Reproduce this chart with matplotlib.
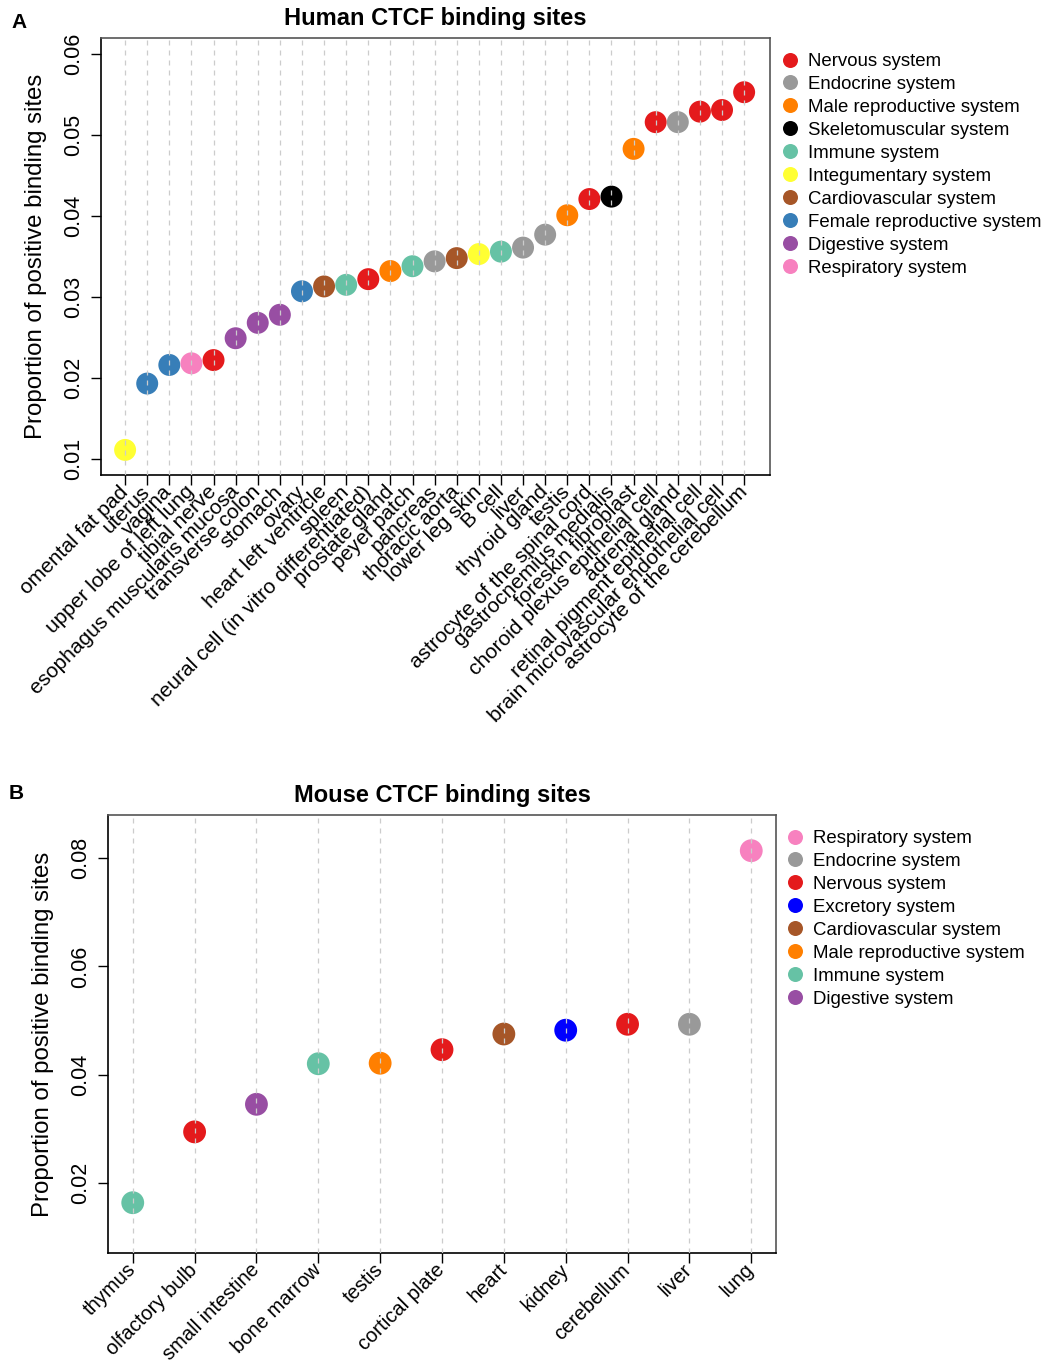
import matplotlib
matplotlib.use("Agg")
import matplotlib.pyplot as plt
from matplotlib.lines import Line2D
import numpy as np

plt.rcParams['font.family'] = ['Liberation Sans', 'DejaVu Sans']

# system colours (Set1-like palette)
system_colors = {
    "Nervous system": "#E41A1C",
    "Endocrine system": "#999999",
    "Male reproductive system": "#FF7F00",
    "Skeletomuscular system": "#000000",
    "Immune system": "#66C2A5",
    "Integumentary system": "#FFFF33",
    "Cardiovascular system": "#A65628",
    "Female reproductive system": "#377EB8",
    "Digestive system": "#984EA3",
    "Respiratory system": "#F781BF",
    "Excretory system": "#0000FF",
}

# --- human ---
human_tissues = [
    "omental fat pad", "uterus", "vagina", "upper lobe of left lung", "tibial nerve",
    "esophagus muscularis mucosa", "transverse colon", "stomach", "ovary",
    "heart left ventricle", "spleen", "neural cell (in vitro differentiated)",
    "prostate gland", "peyer patch", "pancreas", "thoracic aorta", "lower leg skin",
    "B cell", "liver", "thyroid gland", "testis", "astrocyte of the spinal cord",
    "gastrocnemius medialis", "foreskin fibroblast", "choroid plexus epithelial cell",
    "adrenal gland", "retinal pigment epithelial cell",
    "brain microvascular endothelial cell", "astrocyte of the cerebellum",
]
human_values = [
    0.0111, 0.0193, 0.0216, 0.0218, 0.0222, 0.0249, 0.0268, 0.0278, 0.0307,
    0.0313, 0.0315, 0.0322, 0.0332, 0.0338, 0.0344, 0.0348, 0.0353, 0.0356,
    0.0361, 0.0377, 0.0401, 0.0421, 0.0424, 0.0483, 0.0516, 0.0516, 0.0529,
    0.0531, 0.0553,
]
human_systems = [
    "Integumentary system", "Female reproductive system", "Female reproductive system",
    "Respiratory system", "Nervous system", "Digestive system", "Digestive system",
    "Digestive system", "Female reproductive system", "Cardiovascular system",
    "Immune system", "Nervous system", "Male reproductive system", "Immune system",
    "Endocrine system", "Cardiovascular system", "Integumentary system", "Immune system",
    "Endocrine system", "Endocrine system", "Male reproductive system", "Nervous system",
    "Skeletomuscular system", "Male reproductive system", "Nervous system",
    "Endocrine system", "Nervous system", "Nervous system", "Nervous system",
]
human_legend = [
    "Nervous system", "Endocrine system", "Male reproductive system",
    "Skeletomuscular system", "Immune system", "Integumentary system",
    "Cardiovascular system", "Female reproductive system", "Digestive system",
    "Respiratory system",
]
human_yticks = [0.01, 0.02, 0.03, 0.04, 0.05, 0.06]

# --- mouse ---
mouse_tissues = [
    "thymus", "olfactory bulb", "small intestine", "bone marrow", "testis",
    "cortical plate", "heart", "kidney", "cerebellum", "liver", "lung",
]
mouse_values = [0.0163, 0.0294, 0.0345, 0.0420, 0.0421, 0.0446, 0.0475, 0.0482,
                0.0493, 0.0493, 0.0814]
mouse_systems = [
    "Immune system", "Nervous system", "Digestive system", "Immune system",
    "Male reproductive system", "Nervous system", "Cardiovascular system",
    "Excretory system", "Nervous system", "Endocrine system", "Respiratory system",
]
mouse_legend = [
    "Respiratory system", "Endocrine system", "Nervous system", "Excretory system",
    "Cardiovascular system", "Male reproductive system", "Immune system",
    "Digestive system",
]
mouse_yticks = [0.02, 0.04, 0.06, 0.08]

W, H = 1046, 1365
fig = plt.figure(figsize=(W / 100, H / 100), dpi=100)


def px_axes(left, top, right, bottom):
    return fig.add_axes([left / W, 1 - bottom / H, (right - left) / W, (bottom - top) / H])


def dot_panel(ax, names, values, systems, yticks, ylim, xpad, title, msize, xfs):
    x = np.arange(len(names))
    for xi in x:
        ax.axvline(xi, color="#cccccc", lw=0.9, ls=(0, (4, 4)), zorder=3)
    ax.scatter(x, values, s=msize, c=[system_colors[s] for s in systems],
               edgecolors="none", zorder=2)
    ax.set_xlim(-xpad[0], len(names) - 1 + xpad[1])
    ax.set_ylim(*ylim)
    ax.set_xticks(x)
    ax.set_xticklabels(names, rotation=45, ha="right", va="center",
                       rotation_mode="anchor", fontsize=xfs)
    ax.set_yticks(yticks)
    ax.set_yticklabels([f"{t:.2f}" for t in yticks], rotation=90, va="center",
                       fontsize=15.5)
    ax.tick_params(length=7, width=1, direction="out")
    ax.tick_params(axis="x", pad=3)
    ax.tick_params(axis="y", pad=5)
    ax.set_ylabel("Proportion of positive binding sites", fontsize=17.3, labelpad=12)
    ax.set_title(title, fontsize=17, fontweight="bold", pad=9)
    for side in ["top", "right"]:
        ax.spines[side].set_color("#555555")
    for sp in ax.spines.values():
        sp.set_linewidth(1.2)


def dot_legend(labels, x0, y0):
    handles = [Line2D([], [], marker="o", ls="none", markersize=10.8,
                      markerfacecolor=system_colors[l], markeredgecolor="none")
               for l in labels]
    fig.legend(handles, labels, loc="upper left", bbox_to_anchor=(x0 / W, 1 - y0 / H),
               frameon=False, fontsize=13.4, handlelength=1.0, handletextpad=0.45,
               labelspacing=0.32, borderpad=0, borderaxespad=0)


axA = px_axes(101, 38, 770, 475)
dot_panel(axA, human_tissues, human_values, human_systems, human_yticks,
          (0.008, 0.062), (1.09, 1.17), "Human CTCF binding sites", 250, 15)
dot_legend(human_legend, 781, 53)

axB = px_axes(108, 815, 776, 1253)
dot_panel(axB, mouse_tissues, mouse_values, mouse_systems, mouse_yticks,
          (0.0070, 0.0880), (0.4, 0.4), "Mouse CTCF binding sites", 270, 14.5)
dot_legend(mouse_legend, 786, 830)

fig.text(11 / W, 1 - 22 / H, "A", fontsize=15, fontweight="bold", va="center")
fig.text(9 / W, 1 - 793 / H, "B", fontsize=15, fontweight="bold", va="center")

fig.savefig("out.png", dpi=100)
